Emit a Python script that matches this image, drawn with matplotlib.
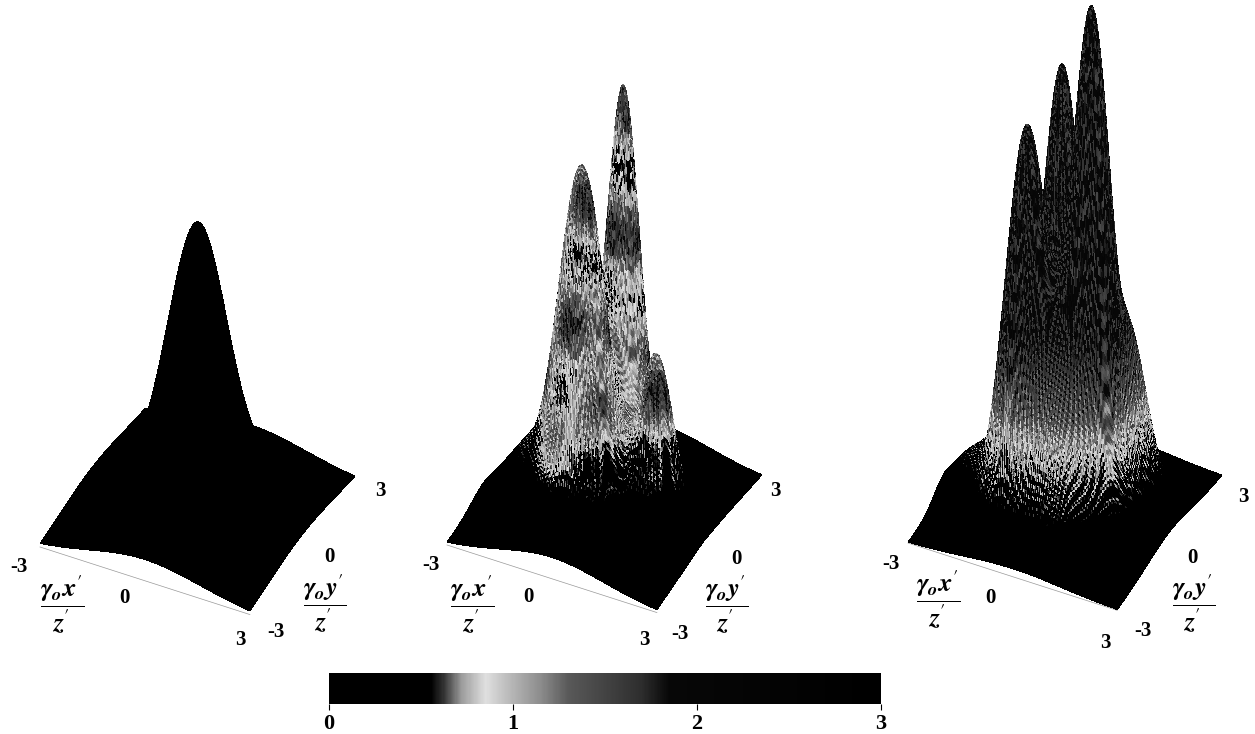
import numpy as np
from matplotlib import pyplot as plt
from matplotlib.colors import LinearSegmentedColormap, Normalize
from mpl_toolkits.mplot3d import proj3d

plt.rcParams['font.family'] = ['Liberation Serif', 'DejaVu Sans']
plt.rcParams['mathtext.fontset'] = 'stix'

W, H = 1255, 734

# peaks: ground position, height, widths
# (surfaces are built from these, they are estimates and not a measured grid)
p1_x = [0.0, 0.0]
p1_y = [0.0, 0.0]
p1_h = [0.74, 0.25]
p1_sx = [0.72, 1.6]
p1_sy = [0.72, 1.9]

p2_x = [-0.31, 0.25, 1.7, 0.35, 0.0, -1.9]
p2_y = [-0.9, 0.59, -0.4, -1.2, 0.0, -0.95]
p2_h = [0.92, 1.17, 0.5, 0.35, 0.25, 0.12]
p2_sx = [0.54, 0.4, 0.42, 0.42, 1.5, 0.6]
p2_sy = [0.54, 0.4, 0.42, 0.42, 1.9, 0.6]

p3_x = [-0.57, -0.42, 0.92, 1.5, -0.9, 0.5, 0.0, -2.3]
p3_y = [-1.03, 0.66, -0.29, 0.8, -1.6, -1.5, 0.0, -0.9]
p3_h = [1.05, 1.13, 1.46, 0.4, 0.2, 0.25, 0.38, 0.1]
p3_sx = [0.48, 0.48, 0.48, 0.42, 0.4, 0.45, 1.4, 0.6]
p3_sy = [0.48, 0.48, 0.48, 0.42, 0.4, 0.45, 1.3, 0.6]

# colour bar stops (value, grey level)
bar_values = [0, 0.55, 0.62, 0.72, 0.85, 0.95, 1.15, 1.3, 1.7, 1.85, 3]
bar_greys = [0.0, 0.0, 0.2, 0.62, 0.88, 0.76, 0.55, 0.35, 0.18, 0.03, 0.0]
bar_ticks = [0, 1, 2, 3]

# corners of each ground plane in the picture (left, right), pixels
corners = [((40, 547), (355, 485)), ((447, 545), (762, 485)), ((908, 543), (1222, 489))]

x_frac = r'$\dfrac{\mathbfit{\gamma_o x}^{\prime}}{\mathbfit{z}^{\prime}}$'
y_frac = r'$\dfrac{\mathbfit{\gamma_o y}^{\prime}}{\mathbfit{z}^{\prime}}$'

# tick labels of each panel: text, x pixel, y pixel
labels = [
    [('-3', 19, 567), ('0', 124, 598), ('3', 240, 640), ('-3', 276, 632), ('0', 329, 557), ('3', 380, 491)],
    [('-3', 431, 565), ('0', 528, 597), ('3', 644, 640), ('-3', 680, 634), ('0', 736, 559), ('3', 775, 491)],
    [('-3', 891, 564), ('0', 990, 598), ('3', 1105, 643), ('-3', 1143, 631), ('0', 1192, 558), ('3', 1243, 497)],
]
frac_pos = [((62, 605), (325, 604)), ((472, 605), (727, 605)), ((938, 600), (1194, 604))]

ELEV, AZIM = 40, -63.4
ZMAX = 2.1
cmap = LinearSegmentedColormap.from_list(
    'bar', [(v / 3, (g, g, g)) for v, g in zip(bar_values, bar_greys)], N=512)
norm = Normalize(0, 3)

fig = plt.figure(figsize=(W / 100, H / 100), dpi=100)

n = 280
grid = np.linspace(-3, 3, n)
X, Y = np.meshgrid(grid, grid)


def surface(px, py, ph, psx, psy):
    Z = np.zeros_like(X)
    for a, b, h, sx, sy in zip(px, py, ph, psx, psy):
        Z += h * np.exp(-(X - a) ** 2 / (2 * sx ** 2) - (Y - b) ** 2 / (2 * sy ** 2))
    return Z


def fringes(Z, step):
    # ripples where the surface is flat, speckle where it is steep
    return np.sin(2 * np.pi * Z / step + 55 * X) * np.sin(83 * Y - 60 * X + 25 * Z)


def colour_panel2(Z):
    # large dark blotches on the peaks, with the fine fringes on top
    blob = np.sin(2 * np.pi * Z / 0.42) * np.cos(2.5 * (X - Y))
    level = (1.15 + 0.6 * blob) * np.clip((Z - 0.12) / 0.3, 0, 1)
    C = level + 0.4 * fringes(Z, 0.03) * np.clip((Z - 0.12) / 0.15, 0, 1)
    return np.clip(C, 0, 3)


def colour_panel3(Z):
    # light on the skirts, dark towards the tops, fading out into the ground
    level = (1.1 + 0.75 * np.clip((Z - 0.25) / 0.45, 0, 1)) * np.clip((Z - 0.05) / 0.4, 0, 1)
    C = level + 0.42 * fringes(Z, 0.035) * np.clip((Z - 0.03) / 0.15, 0, 1)
    return np.clip(C, 0, 3)


def fit_axes(ax, left_px, right_px):
    # move the axes so that the two ground corners land on their pixels
    size = 700.0
    cx, cy = W / 2, H / 2
    for i in range(4):
        ax.set_position([(cx - size / 2) / W, (cy - size / 2) / H, size / W, size / H])
        ax.apply_aspect()
        xs, ys, _ = proj3d.proj_transform(np.array([-3.0, 3.0]), np.array([-3.0, 3.0]),
                                          np.array([0.0, 0.0]), ax.get_proj())
        pts = ax.transData.transform(np.column_stack([xs, ys]))
        size *= (right_px[0] - left_px[0]) / (pts[1, 0] - pts[0, 0])
        ax.set_position([(cx - size / 2) / W, (cy - size / 2) / H, size / W, size / H])
        ax.apply_aspect()
        pts = ax.transData.transform(np.column_stack([xs, ys]))
        cx += left_px[0] - pts[0, 0]
        cy += (H - left_px[1]) - pts[0, 1]
    ax.set_position([(cx - size / 2) / W, (cy - size / 2) / H, size / W, size / H])


panels = [
    (surface(p1_x, p1_y, p1_h, p1_sx, p1_sy), None),
    (surface(p2_x, p2_y, p2_h, p2_sx, p2_sy), colour_panel2),
    (surface(p3_x, p3_y, p3_h, p3_sx, p3_sy), colour_panel3),
]

for i, (Z, colour) in enumerate(panels):
    ax = fig.add_axes([0.1, 0.1, 0.5, 0.5], projection='3d', proj_type='ortho')
    ax.view_init(elev=ELEV, azim=AZIM)
    ax.set_xlim(-3, 3)
    ax.set_ylim(-3, 3)
    ax.set_zlim(0, ZMAX)
    # 294 px for a height of 1, the ground edge is about 235 px long
    ax.set_box_aspect((1, 1, 294 * ZMAX / (235 * np.cos(np.radians(ELEV)))))
    ax.set_axis_off()
    ax.patch.set_visible(False)
    C = np.zeros_like(Z) if colour is None else colour(Z)
    ax.plot_surface(X, Y, Z, facecolors=cmap(norm(C)), rstride=1, cstride=1,
                    shade=False, linewidth=0, antialiased=False)
    # thin base line along the front edge
    ax.plot([-3, 3], [-3, -3], [0, 0], color='0.6', lw=0.5, zorder=0)
    fit_axes(ax, corners[i][0], corners[i][1])

    for text, px, py in labels[i]:
        fig.text(px / W, 1 - py / H, text, ha='center', va='center', fontsize=15, fontweight='bold')
    for frac, (px, py) in zip((x_frac, y_frac), frac_pos[i]):
        fig.text(px / W, 1 - py / H, frac, ha='center', va='center', fontsize=19)

# colour bar
cax = fig.add_axes([329 / W, 1 - 704 / H, (881 - 329) / W, 31 / H])
cax.imshow(np.linspace(0, 3, 600)[None, :], cmap=cmap, norm=norm, aspect='auto', extent=(0, 3, 0, 1))
cax.set_yticks([])
cax.set_xticks(bar_ticks)
cax.set_xticklabels([str(t) for t in bar_ticks], fontsize=16, fontweight='bold')
cax.tick_params(axis='x', length=4, width=0.8, pad=3)
for s in cax.spines.values():
    s.set_visible(False)

fig.savefig('out.png', dpi=100)
